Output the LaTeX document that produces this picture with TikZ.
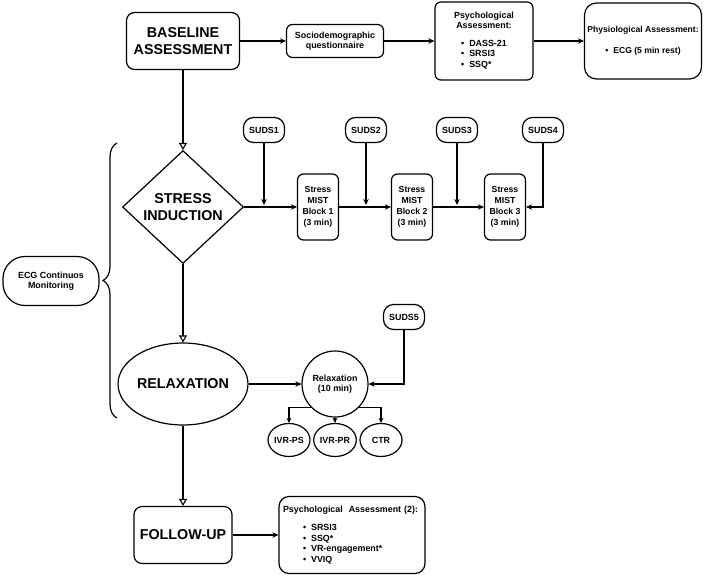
\documentclass[tikz,border=0pt]{standalone}
\usepackage{fontspec}
\setmainfont{Liberation Sans}
\usepackage{tikz}
\usetikzlibrary{shapes.geometric,arrows.meta,decorations.pathreplacing}
\newcommand{\bul}{\textbullet\hspace{5pt}}
\newcommand{\bigfont}{\fontsize{14.3}{17}\selectfont\bfseries}
\newcommand{\smallfont}{\fontsize{8.9}{10.5}\selectfont\bfseries}

\begin{document}
\begin{tikzpicture}[x=1pt,y=-1pt,>={Stealth[length=6pt,width=5.5pt]},
    link/.style={->,line width=1.1pt},
    flow/.style={-{Triangle[open,length=7pt,width=8pt,fill=white]},line width=1.1pt},
    bigbox/.style={draw,line width=1.2pt,rounded corners=8pt,align=center,inner sep=0pt,font=\bigfont},
    smallbox/.style={draw,line width=1.2pt,rounded corners=6pt,align=center,inner sep=0pt,font=\smallfont},
    pill/.style={draw,line width=1.2pt,rounded corners=10pt,minimum width=41pt,minimum height=25pt,inner sep=0pt,font=\smallfont},
    blockbox/.style={smallbox,minimum width=41pt,minimum height=66pt,font=\fontsize{8.7}{11}\selectfont\bfseries},
    oval/.style={draw,ellipse,line width=1.2pt,inner sep=0pt,font=\smallfont}]
    \useasboundingbox (0,0) rectangle (709,576);
    \begin{scope}
      \node[bigbox,minimum width=113pt,minimum height=57pt] (base) at (183,41) {BASELINE\\ASSESSMENT};
      \node[smallbox,minimum width=97pt,minimum height=33pt] (socio) at (335,41) {Sociodemographic\\questionnaire};
      \node[smallbox,minimum width=98pt,minimum height=78pt] (psy) at (484,41)
        {Psychological\\Assessment:\\[9pt]\begin{tabular}{@{}l@{}}\bul DASS-21\\ \bul SRSI3\\ \bul SSQ*\end{tabular}};
      \node[smallbox,minimum width=117pt,minimum height=76pt,rounded corners=12pt,font=\fontsize{8.6}{10.5}\selectfont\bfseries] (phys) at (643,41)
        {Physiological Assessment:\\[10pt]\bul ECG (5 min rest)};
      \draw[link] (base.east) -- (socio.west);
      \draw[link] (socio.east) -- (psy.west);
      \draw[link] (psy.east) -- (phys.west);
    \end{scope}
    \node[draw,diamond,line width=1.2pt,aspect=1.07,minimum width=121pt,minimum height=113pt,inner sep=0pt,align=center,font=\bigfont] (stress) at (183,207) {STRESS\\INDUCTION};
    \draw[flow] (base.south) -- (stress.north);
    \node[draw,line width=1.2pt,rounded corners=22pt,minimum width=96pt,minimum height=49pt,align=center,inner sep=0pt,font=\smallfont] (ecg) at (51,281) {ECG Continuos\\Monitoring};
    \draw[line width=1.2pt,decorate,decoration={brace,amplitude=14pt}] (117,418) -- (117,143);
    \begin{scope}
      \node[pill] (suds1) at (264,130) {SUDS1};
      \node[pill] (suds2) at (366,130) {SUDS2};
      \node[pill] (suds3) at (457,130) {SUDS3};
      \node[pill] (suds4) at (543,130) {SUDS4};
      \node[blockbox] (blk1) at (318,207) {Stress\\MIST\\Block 1\\(3 min)};
      \node[blockbox] (blk2) at (412,207) {Stress\\MIST\\Block 2\\(3 min)};
      \node[blockbox] (blk3) at (505,207) {Stress\\MIST\\Block 3\\(3 min)};
      \draw[link] (stress.east) -- (blk1.west);
      \draw[link] (blk1.east) -- (blk2.west);
      \draw[link] (blk2.east) -- (blk3.west);
      \draw[link,shorten >=2pt] (suds1.south) -- (suds1.south |- stress.east);
      \draw[link,shorten >=2pt] (suds2.south) -- (suds2.south |- blk1.east);
      \draw[link,shorten >=2pt] (suds3.south) -- (suds3.south |- blk2.east);
      \draw[link] (suds4.south) |- (blk3.east);
    \end{scope}
    \node[oval,minimum width=114pt,minimum height=82pt,font=\bigfont] (relax) at (183,384) {RELAXATION};
    \draw[flow] (stress.south) -- (relax.north);
    \begin{scope}
      \node[draw,circle,line width=1.2pt,minimum size=66pt,inner sep=0pt,align=center,font=\smallfont] (rlxmin) at (335,384) {Relaxation\\(10 min)};
      \node[pill] (suds5) at (404,317) {SUDS5};
      \node[oval,minimum width=40pt,minimum height=33pt] (ivrps) at (289,440) {IVR-PS};
      \node[oval,minimum width=40pt,minimum height=33pt] (ivrpr) at (335,440) {IVR-PR};
      \node[oval,minimum width=42pt,minimum height=33pt] (ctr) at (381,440) {CTR};
      \draw[link] (relax.east) -- (rlxmin.west);
      \draw[link] (suds5.south) |- (rlxmin.east);
      \draw[link,>={Stealth[length=5pt,width=5pt]}] (rlxmin.-135) -| (ivrps.north);
      \draw[link,>={Stealth[length=5pt,width=5pt]}] (rlxmin.south) -- (ivrpr.north);
      \draw[link,>={Stealth[length=5pt,width=5pt]}] (rlxmin.-45) -| (ctr.north);
    \end{scope}
    \node[bigbox,minimum width=98pt,minimum height=57pt] (follow) at (183,535) {FOLLOW-UP};
    \draw[flow] (relax.south) -- (follow.north);
    \node[draw,line width=1.2pt,rounded corners=10pt,minimum width=146pt,minimum height=77pt,text width=138pt,inner sep=4pt,align=left,font=\smallfont] (psy2) at (352,535)
      {Psychological\ \ Assessment (2):\\[8pt]
       \hspace*{20pt}\bul SRSI3\\ \hspace*{20pt}\bul SSQ*\\ \hspace*{20pt}\bul VR-engagement*\\ \hspace*{20pt}\bul VVIQ};
    \draw[link] (follow.east) -- (psy2.west);
  \end{tikzpicture}
\end{document}
